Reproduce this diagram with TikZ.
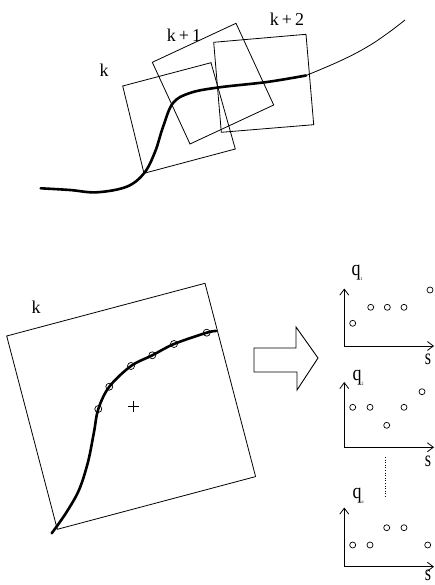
\documentclass[tikz,border=0pt]{standalone}
\usepackage{fontspec}
\setmainfont{Liberation Serif}
\usetikzlibrary{arrows.meta}
\begin{document}
\begin{tikzpicture}[x=1pt,y=-1pt,
  thin line/.style={line width=0.8pt},
  thick curve/.style={line width=2.6pt,line cap=round},
  lab/.style={font=\fontsize{18}{20}\selectfont,inner sep=0pt},
  dot/.style={draw,line width=0.7pt,circle,minimum size=6pt,inner sep=0pt},
  sdot/.style={draw,line width=0.7pt,circle,minimum size=7pt,inner sep=0pt},
  axis/.style={line width=0.9pt,-{Straight Barb[length=6pt,width=9pt,line width=0.8pt]}},
  qlab/.style={font=\fontsize{18}{20}\selectfont,inner sep=0pt,yscale=1.2},
  slab/.style={font=\fontsize{16}{18}\selectfont,inner sep=0pt,yscale=1.4}]
\useasboundingbox (0,0) rectangle (435,585);
% ---------- top: overlapping windows ----------
\draw[thin line] (122.7,86) -- (211,62.7) -- (235.3,149) -- (144,173.3) -- cycle;
\draw[thin line] (152.3,62.3) -- (236,23.3) -- (273.7,105) -- (190,144) -- cycle;
\draw[thin line] (213.7,42.3) -- (306,34.3) -- (313.7,124.7) -- (221.3,132.3) -- cycle;
\node[lab] (lk) at (104,70) {k};
\node[lab] (lk1) at (184,35) {k\,+\,1};
\node[lab] (lk2) at (287,19) {k\,+\,2};
\draw[thick curve] plot[smooth,tension=0.6] coordinates {
  (40.7,188.3) (70,190) (96.7,192.3) (126.7,186.7) (144,173.3) (155,152)
  (163,127) (173,103) (190,93) (218,87.5) (267,82) (306,75.5)};
\draw[thin line] plot[smooth,tension=0.7] coordinates {
  (306,75.5) (340,61) (367,47) (388,33) (405,20)};
% ---------- bottom left: window k ----------
\draw[thin line] (6.7,336) -- (205,283.3) -- (255.6,476.6) -- (57.3,529.3) -- cycle;
\node[lab] (lkb) at (36,307) {k};
\draw[thick curve] plot[smooth,tension=0.55] coordinates {
  (51.7,533.3) (66,513) (79,490) (88,462) (94,432) (98.3,409) (109.3,386.7)
  (131,366) (152.3,355.3) (174,344) (206.7,332.7) (216,331)};
\foreach \p [count=\i] in {(98.3,409),(109.3,386.7),(131,366),(152.3,355.3),(174,344),(206.7,332.7)}
  \node[sdot] (c\i) at \p {};
\draw[line width=0.6pt] (128,406) -- (139,406) (133.5,400.5) -- (133.5,411.5);
% ---------- block arrow ----------
\draw[line width=0.9pt] (254,348) -- (296,348) -- (296,327) -- (318,358) -- (297,390)
  -- (297,372) -- (254,372) -- cycle;
% ---------- plots ----------
% plot 1
\coordinate (o1) at (344.3,346);
\draw[axis] (o1) -- (344.3,288.5);
\draw[axis] (o1) -- (434,346);
\node[qlab] (q1) at (357,273) {q\raisebox{-0.5ex}{\fontsize{4}{4}\selectfont 1}};
\node[slab] (s1) at (428,359) {s};
\foreach \p in {(352.7,323.3),(370.7,307.3),(387.3,307.3),(404,307.3),(430,290)}
  \node[dot] at \p {};
% plot 2
\coordinate (o2) at (344.3,447.3);
\draw[axis] (o2) -- (344.3,382);
\draw[axis] (o2) -- (434,447.3);
\node[qlab] (q2) at (358,378) {q\raisebox{-0.5ex}{\fontsize{4}{4}\selectfont 2}};
\node[slab] (s2) at (428,461) {s};
\foreach \p in {(352.7,407.3),(370,407.3),(386.7,425.3),(404,407.3),(422,391.7)}
  \node[dot] at \p {};
\draw[line width=0.6pt,dotted] (385.7,457) -- (385.7,497);
% plot 3
\coordinate (o3) at (344.3,566.7);
\draw[axis] (o3) -- (344.3,507.5);
\draw[axis] (o3) -- (434,566.7);
\node[qlab] (q3) at (358,496) {q\raisebox{-0.5ex}{\fontsize{4}{4}\selectfont n}};
\node[slab] (s3) at (428,575) {s};
\foreach \p in {(352.7,545),(370,545),(386.7,527.7),(404,527.7),(427.7,545)}
  \node[dot] at \p {};
\end{tikzpicture}
\end{document}
